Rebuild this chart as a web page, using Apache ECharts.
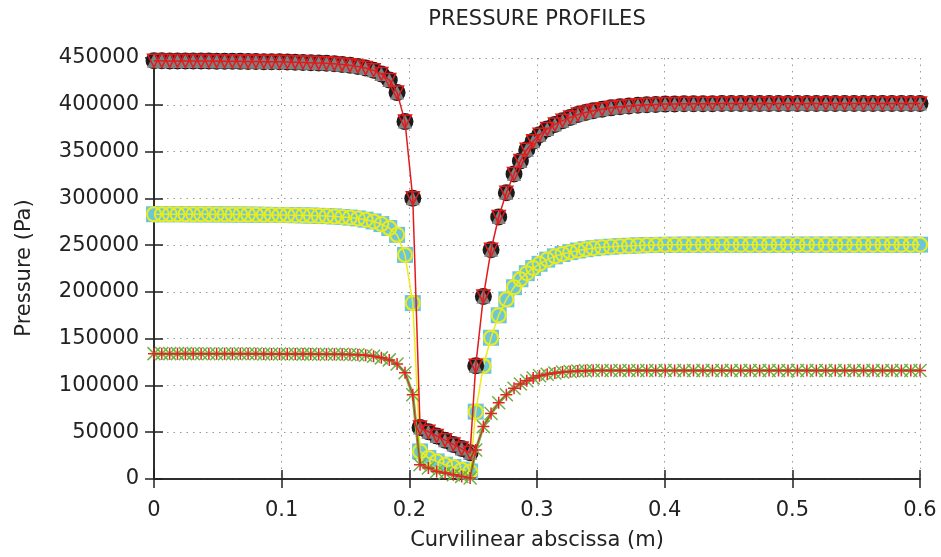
<!DOCTYPE html>
<html><head><meta charset="utf-8">
<script src="https://cdn.jsdelivr.net/npm/echarts@6/dist/echarts.min.js"></script>
<style>html,body{margin:0;padding:0;background:#fff}#c{width:941px;height:557px}</style>
</head><body><div id="c"></div>
<script>
// Curvilinear abscissa (m)
const xs = [0, 0.0061, 0.0123, 0.0184, 0.0246, 0.0307, 0.0369, 0.043, 0.0491, 0.0553, 0.0614, 0.0676, 0.0737, 0.0798, 0.086, 0.0921, 0.0983, 0.1044, 0.1106, 0.1167, 0.1228, 0.129, 0.1351, 0.1413, 0.1474, 0.1535, 0.1597, 0.1658, 0.172, 0.1781, 0.1843, 0.1904, 0.1966, 0.2027,
  0.2084, 0.2149, 0.2214, 0.228, 0.2345, 0.241, 0.2476,
  0.252, 0.258, 0.264, 0.27, 0.276, 0.282, 0.287, 0.292, 0.297, 0.302, 0.308, 0.314, 0.32, 0.326, 0.332, 0.338, 0.344, 0.351, 0.358, 0.365, 0.372, 0.379, 0.386, 0.393, 0.4004, 0.4078, 0.4152, 0.4226, 0.43, 0.4374, 0.4448, 0.4522, 0.4596, 0.467, 0.4744, 0.4818, 0.4892, 0.4966, 0.504, 0.5114, 0.5188, 0.5262, 0.5336, 0.541, 0.5484, 0.5558, 0.5632, 0.5706, 0.578, 0.5854, 0.5928, 0.6];

// High pressure profile (Pa)
const pHigh = [447000, 447000, 446900, 446900, 446800, 446800, 446700, 446700, 446600, 446500, 446500, 446400, 446300, 446200, 446100, 446000, 445900, 445700, 445500, 445300, 445000, 444700, 444300, 443800, 443100, 442200, 441000, 439300, 436800, 433000, 426500, 413000, 382000, 300000,
  55000, 50500, 46000, 41500, 37000, 32500, 28000,
  121000, 195000, 245000, 280000, 306000, 326000, 340000, 352000, 361000, 368000, 374000, 379000, 383000, 386500, 389500, 391800, 393700, 395300, 396700, 397800, 398700, 399400, 400000, 400400, 400700, 400900, 401000, 401100, 401200, 401200, 401300, 401300, 401300, 401300, 401300, 401300, 401300, 401300, 401300, 401300, 401300, 401300, 401300, 401300, 401300, 401300, 401300, 401300, 401300, 401300, 401300, 401300];

// Medium pressure profile (Pa)
const pMid = [283000, 283000, 283000, 283000, 283000, 282900, 282900, 282900, 282800, 282800, 282700, 282700, 282600, 282500, 282400, 282300, 282200, 282100, 282000, 281800, 281600, 281300, 281000, 280600, 280100, 279400, 278500, 277200, 275300, 272500, 268300, 261000, 239500, 188000,
  29500, 22500, 18800, 15300, 12800, 10000, 8000,
  72000, 121000, 151000, 175000, 192000, 205000, 213500, 220000, 225500, 230000, 234500, 238000, 240500, 242500, 244200, 245600, 246700, 247600, 248300, 248900, 249300, 249700, 250000, 250200, 250300, 250400, 250500, 250500, 250500, 250500, 250500, 250500, 250500, 250500, 250500, 250500, 250500, 250500, 250500, 250500, 250500, 250500, 250500, 250500, 250500, 250500, 250500, 250500, 250500, 250500, 250500, 250500];

// Low pressure profile (Pa)
const pLow = [134000, 134000, 134000, 134000, 134000, 134000, 133900, 133900, 133900, 133900, 133800, 133800, 133800, 133800, 133700, 133700, 133700, 133600, 133600, 133500, 133500, 133400, 133400, 133300, 133300, 133100, 132800, 132300, 131200, 129500, 127300, 123000, 113500, 90000,
  15300, 11800, 8100, 6400, 4600, 2800, 1100,
  31000, 56000, 70000, 81500, 90000, 97000, 101500, 105000, 108000, 110300, 112000, 113300, 114300, 115000, 115400, 115700, 115900, 116000, 116000, 116000, 116000, 116000, 116000, 116000, 116000, 116000, 116000, 116000, 116000, 116000, 116000, 116000, 116000, 116000, 116000, 116000, 116000, 116000, 116000, 116000, 116000, 116000, 116000, 116000, 116000, 116000, 116000, 116000, 116000, 116000, 116000, 116000, 116000];

const titleText = 'PRESSURE PROFILES';
const xName = 'Curvilinear abscissa (m)';
const yName = 'Pressure (Pa)';

const pts = arr => xs.map((x, i) => [x, arr[i]]);
const FONT = 'DejaVu Sans';
const TRI_DOWN = 'path://M0,0L10,0L5,8.66Z';
const XMARK = 'path://M0,0L10,10M10,0L0,10';
const PLUS = 'path://M5,0L5,10M0,5L10,5';
const none = 'rgba(0,0,0,0)';

const chart = echarts.init(document.getElementById('c'), null, {renderer: 'canvas'});
const axisCommon = {
  axisLine: {show: true, lineStyle: {color: '#222', width: 1.5}},
  axisTick: {show: true, inside: true, length: 9, lineStyle: {color: '#222', width: 1.5}},
};
const grid = {left: 154, right: 21, top: 58, bottom: 78};
const scat = (data, symbol, size, color, z) => ({
  type: 'scatter', data, symbol, symbolSize: size, clip: false, z,
  itemStyle: {color, opacity: 1}, silent: true
});
const lineS = (data, symbol, size, color, lw, z, bw) => ({
  type: 'line', data, symbol, symbolSize: size, showAllSymbol: true, clip: false, z,
  lineStyle: {color, width: lw}, itemStyle: {color: none, borderColor: color, borderWidth: bw || 1.5},
  silent: true
});

chart.setOption({
  animation: false,
  backgroundColor: '#fff',
  grid,
  xAxis: [
    Object.assign({type: 'value', min: 0, max: 0.6, interval: 0.1, position: 'bottom',
      axisLabel: {fontFamily: FONT, fontSize: 21, color: '#222', margin: 21,
        formatter: v => String(Math.round(v * 10) / 10)},
      splitLine: {show: true, lineStyle: {color: '#999', width: 1, type: [1.5, 5]}}}, axisCommon),
    Object.assign({type: 'value', min: 0, max: 0.6, interval: 0.1, position: 'top',
      axisLabel: {show: false}, splitLine: {show: false}}, axisCommon)
  ],
  yAxis: [
    Object.assign({type: 'value', min: 0, max: 450000, interval: 50000, position: 'left',
      axisLabel: {fontFamily: FONT, fontSize: 21, color: '#222', margin: 15, formatter: v => String(v)},
      splitLine: {show: true, lineStyle: {color: '#999', width: 1, type: [1.5, 5]}}}, axisCommon),
    Object.assign({type: 'value', min: 0, max: 450000, interval: 50000, position: 'right',
      axisLabel: {show: false}, splitLine: {show: false}}, axisCommon)
  ],
  graphic: [
    {type: 'text', x: 537, y: 20, style: {text: titleText, font: '21px "DejaVu Sans"', fill: '#222', textAlign: 'center', textVerticalAlign: 'middle'}},
    {type: 'text', x: 537, y: 541, style: {text: xName, font: '21px "DejaVu Sans"', fill: '#222', textAlign: 'center', textVerticalAlign: 'middle'}},
    {type: 'text', x: 25, y: 268, rotation: Math.PI / 2, style: {text: yName, font: '21px "DejaVu Sans"', fill: '#222', textAlign: 'center', textVerticalAlign: 'middle'}}
  ],
  series: [
    scat(pts(pMid), 'rect', 16, '#6cc6da', 2),
    lineS(pts(pMid), 'circle', 14, '#ecec1c', 1.5, 3, 2),
    scat(pts(pHigh), 'circle', 17, '#1c1c1c', 4),
    scat(pts(pHigh), 'triangle', 14, '#808080', 5),
    lineS(pts(pLow), XMARK, 13, '#6db33f', 3, 6, 1.5),
    lineS(pts(pLow), PLUS, 12, '#e8202a', 1, 7, 1.5),
    lineS(pts(pHigh), TRI_DOWN, 13, '#e31a1c', 1.5, 8, 1.5)
  ]
});
</script></body></html>
